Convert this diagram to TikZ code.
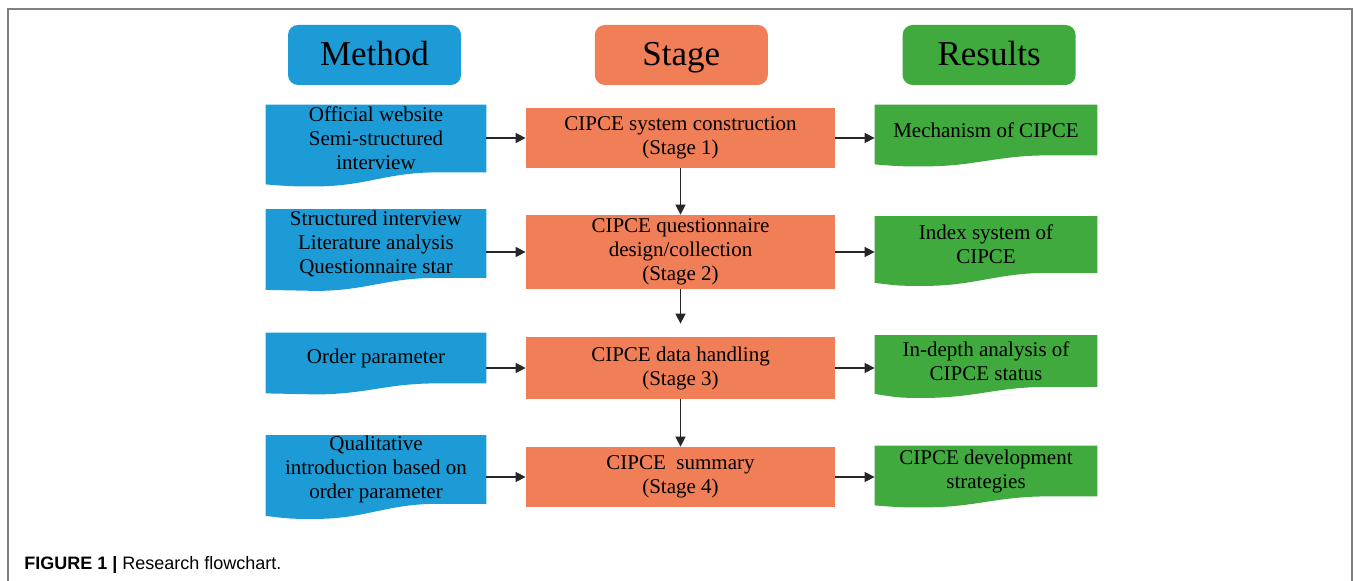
\documentclass[tikz,border=0pt]{standalone}
\usepackage{fontspec}
\setmainfont{Liberation Serif}
\setsansfont{Liberation Sans}
\usetikzlibrary{arrows.meta,positioning,calc,backgrounds}
\definecolor{methodblue}{RGB}{29,155,215}
\definecolor{stageorange}{RGB}{240,126,86}
\definecolor{resultgreen}{RGB}{64,170,62}
\definecolor{framegray}{RGB}{128,128,128}
\tikzset{
  headbox/.style={rectangle,rounded corners=5pt,minimum width=86.5pt,minimum height=30pt,inner sep=0pt,
    text height=13pt,text depth=2pt,font=\fontsize{17.5}{19}\selectfont},
  docbox/.style={rectangle,minimum width=110pt,inner sep=0pt,align=center,font=\fontsize{10.5}{12}\selectfont},
  stagebox/.style={rectangle,fill=stageorange,minimum width=154.5pt,inner sep=0pt,align=center,font=\fontsize{10.5}{12}\selectfont},
  flowarrow/.style={-{Triangle[length=5pt,width=5pt]}, line width=0.75pt, color=black!85}
}

\begin{document}
\begin{tikzpicture}[x=0.5pt,y=-0.5pt]
  \useasboundingbox (0,0) rectangle (1354,581);
  \draw[framegray, line width=0.8pt] (8,581) -- (8,9) -- (1352,9) -- (1352,581);
  % column headers
  \node[headbox, fill=methodblue] (Method) at (374.5,55) {Method};
  \node[headbox, fill=stageorange, right=66.5pt of Method] (Stage) {Stage};
  \node[headbox, fill=resultgreen, right=67pt of Stage] (Results) {Results};
  % stages
  \node[stagebox, minimum height=30pt] (S1) at (680.5,138) {CIPCE system construction\\(Stage 1)};
  \node[stagebox, minimum height=37pt] (S2) at (680.5,252) {CIPCE questionnaire\\design/collection\\(Stage 2)};
  \node[stagebox, minimum height=31pt] (S3) at (680.5,368) {CIPCE data handling\\(Stage 3)};
  \node[stagebox, minimum height=30pt] (S4) at (680.5,477) {CIPCE~~summary\\(Stage 4)};
  % methods
  \node[docbox, minimum height=33.5pt] (M1) at (376,138.5) {Official website\\Semi-structured\\interview};
  \node[docbox, minimum height=34pt] (M2) at (376,243.5) {Structured interview\\Literature analysis\\Questionnaire star};
  \node[docbox, minimum height=25pt] (M3) at (376,358) {Order parameter};
  \node[docbox, minimum height=34pt] (M4) at (376,469.5) {Qualitative\\introduction based on\\order parameter};
  % results
  \node[docbox, minimum width=111pt, minimum height=25pt] (R1) at (986,130) {Mechanism of CIPCE};
  \node[docbox, minimum width=111pt, minimum height=28pt] (R2) at (986,244.5) {Index system of\\CIPCE};
  \node[docbox, minimum width=111pt, minimum height=25.5pt] (R3) at (986,361) {In-depth analysis of\\CIPCE status};
  \node[docbox, minimum width=111pt, minimum height=25pt] (R4) at (986,471) {CIPCE development\\strategies};
  % wavy bottoms
  \begin{scope}[on background layer]
    \foreach \n/\col/\d/\l in {M1/methodblue/14/12, M2/methodblue/13/12, M3/methodblue/11/10, M4/methodblue/15/12,
                              R1/resultgreen/11/9, R2/resultgreen/13/10, R3/resultgreen/11/7, R4/resultgreen/11/9}
      \fill[\col] (\n.north west) -- (\n.north east) -- (\n.south east) -- ($(\n.south east)+(-50,0)$)
        .. controls ($(\n.south east)+(-100,0)$) and ($(\n.south west)+(100,\d)$) .. ($(\n.south west)+(50,\d)$)
        .. controls ($(\n.south west)+(25,\d)$) .. ($(\n.south west)+(0,\l)$) -- cycle;
  \end{scope}
  % arrows
  \foreach \i in {1,...,4} {
    \draw[flowarrow] (M\i.east |- S\i.west) -- (S\i.west);
    \draw[flowarrow] (S\i.east) -- (S\i.east -| R\i.west);
  }
  \draw[flowarrow] (S1) -- (S2);
  \draw[flowarrow, shorten >=6.5pt] (S2) -- (S3);
  \draw[flowarrow] (S3) -- (S4);
  \node[anchor=base west, inner sep=0pt, font=\sffamily\fontsize{9}{11}\selectfont] (caption) at (24,570) {\textbf{FIGURE 1 |} Research flowchart.};
\end{tikzpicture}
\end{document}
